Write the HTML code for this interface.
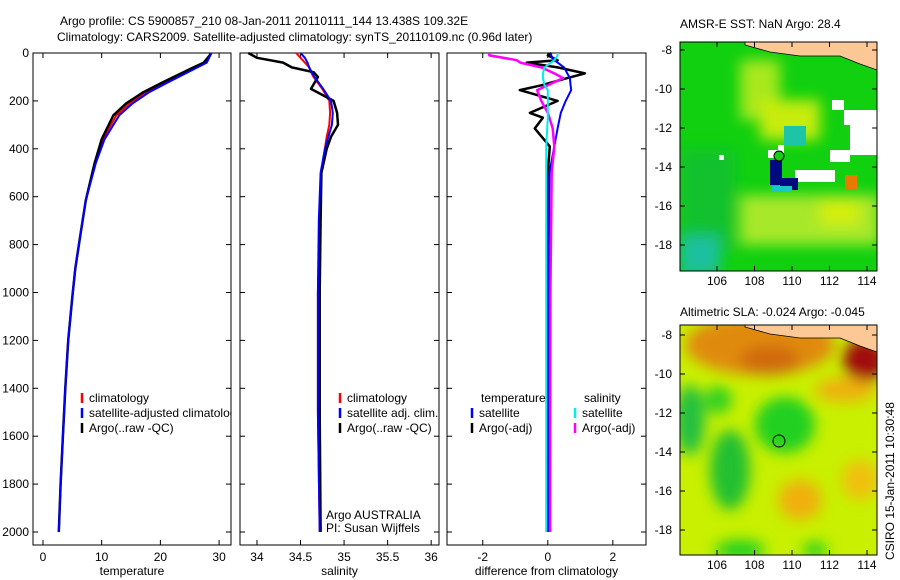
<!DOCTYPE html>
<html><head><meta charset="utf-8"><style>
body{margin:0;background:#fff;}
svg{display:block;font-family:"Liberation Sans",sans-serif;}
text{font-size:12px;fill:#000;}
</style></head><body>
<svg id="fig" width="900" height="580" viewBox="0 0 900 580">
<defs>
<clipPath id="c1"><rect x="680" y="42" width="197" height="229"/></clipPath>
<clipPath id="c2"><rect x="680" y="325" width="197" height="230"/></clipPath>
<filter id="bl" x="-50%" y="-50%" width="200%" height="200%"><feGaussianBlur stdDeviation="7"/></filter>
</defs>
<text x="60" y="25">Argo profile: CS 5900857_210 08-Jan-2011 20110111_144 13.438S 109.32E</text>
<text x="57" y="41">Climatology: CARS2009. Satellite-adjusted climatology: synTS_20110109.nc (0.96d later)</text>
<g id="panels"></g>
<!-- SST map -->
<g>
<text x="680" y="28">AMSR-E SST: NaN Argo: 28.4</text>
<g clip-path="url(#c1)">
<rect x="680" y="42" width="197" height="229" fill="#10d010"/>
<g filter="url(#bl)">
<rect x="680" y="150" width="55" height="100" fill="#12b840" opacity="0.6"/>
<rect x="680" y="235" width="40" height="40" fill="#1ec0a0"/>
<rect x="740" y="60" width="40" height="60" fill="#a8e81e"/>
<rect x="760" y="100" width="60" height="40" fill="#c8ec10"/>
<rect x="740" y="195" width="140" height="50" fill="#a8e82a"/>
<rect x="820" y="200" width="40" height="25" fill="#d4ee10"/>
</g>
<rect x="865" y="110" width="12" height="20" fill="#e8e010"/>
<rect x="784" y="126" width="22" height="20" fill="#1ec4a8"/>
<rect x="778" y="145" width="6" height="8" fill="#fff"/>
<rect x="832" y="100" width="12" height="10" fill="#fff"/>
<rect x="844" y="110" width="33" height="15" fill="#fff"/>
<rect x="850" y="125" width="27" height="30" fill="#fff"/>
<rect x="830" y="150" width="20" height="12" fill="#fff"/>
<rect x="795" y="170" width="40" height="12" fill="#fff"/>
<rect x="768" y="150" width="10" height="8" fill="#fff"/>
<rect x="770" y="160" width="12" height="25" fill="#000a80"/>
<rect x="780" y="178" width="18" height="12" fill="#000a80"/>
<rect x="772" y="186" width="20" height="6" fill="#18c8c8"/>
<rect x="845" y="175" width="12" height="14" fill="#e57c00"/>
<rect x="719" y="155" width="5" height="5" fill="#fff"/>
<path d="M745 42 L877 42 L877 70 L860 64 L840 56 L800 56 L770 52 L745 45 Z" fill="#fcc896" stroke="#000" stroke-width="0.8"/>
</g>
<circle cx="779" cy="156" r="5" fill="#19cc19" stroke="#000"/>
<rect x="680" y="42" width="197" height="229" fill="none" stroke="#000"/>
</g>
<!-- SLA map -->
<g>
<text x="680" y="316">Altimetric SLA: -0.024 Argo: -0.045</text>
<g clip-path="url(#c2)">
<rect x="680" y="325" width="197" height="230" fill="#c8f000"/>
<g filter="url(#bl)">
<ellipse cx="760" cy="345" rx="75" ry="30" fill="#e08a10"/>
<ellipse cx="770" cy="360" rx="30" ry="15" fill="#d06a08"/>
<ellipse cx="865" cy="360" rx="22" ry="22" fill="#a01010"/>
<ellipse cx="845" cy="390" rx="30" ry="12" fill="#eeb010"/>
<ellipse cx="690" cy="420" rx="15" ry="35" fill="#20c040"/>
<ellipse cx="718" cy="400" rx="14" ry="14" fill="#30d020"/>
<ellipse cx="785" cy="425" rx="30" ry="28" fill="#20d020"/>
<ellipse cx="730" cy="470" rx="20" ry="40" fill="#20c030"/>
<ellipse cx="800" cy="500" rx="22" ry="20" fill="#f0b010"/>
<ellipse cx="860" cy="480" rx="18" ry="20" fill="#f0c010"/>
<ellipse cx="740" cy="550" rx="25" ry="10" fill="#20d020"/>
<ellipse cx="815" cy="550" rx="12" ry="8" fill="#20d020"/>
</g>
<path d="M745 325 L877 325 L877 352 L860 346 L840 338 L800 338 L770 334 L745 327 Z" fill="#fcc896" stroke="#000" stroke-width="0.8"/>
</g>
<circle cx="779" cy="441" r="6" fill="none" stroke="#000"/>
<rect x="680" y="325" width="197" height="230" fill="none" stroke="#000"/>
</g>
<text transform="translate(894,560) rotate(-90)">CSIRO 15-Jan-2011 10:30:48</text>
<g id="maptext"></g>
</svg>
<script>
// ---- data ----
const depthTicks=[0,200,400,600,800,1000,1200,1400,1600,1800,2000];
const tempTicks=[0,10,20,30];
const salTicks=[34,34.5,35,35.5,36];
const salTickLabels=["34","34.5","35","35.5","36"];
const diffTicks=[-2,0,2];
const tDepth=[0,10,40,65,120,165,210,260,360,460,615,770,900,1020,1200,1400,1600,1800,2000];
const tClim=[28.6,28.4,27.6,25.5,21,17.5,14.8,12.5,10.2,8.9,7.3,6.3,5.5,5.0,4.3,3.8,3.4,3.0,2.7];
const tSat=[28.7,28.5,27.9,25.9,21.5,18,15.3,13,10.5,9.0,7.3,6.3,5.5,5.0,4.3,3.8,3.4,3.0,2.7];
const tArgo=[28.6,28.4,27.4,25.2,20.6,17,14.2,12,10.0,8.8,7.3,6.3,5.5,5.0,4.3,3.8,3.4,3.0,2.7];
const sDepth=[0,20,40,60,80,100,150,200,250,300,350,400,500,700,1000,1500,2000];
const sClim=[34.45,34.5,34.55,34.6,34.62,34.65,34.75,34.83,34.84,34.83,34.8,34.78,34.74,34.72,34.7,34.7,34.72];
const sSat=[34.5,34.55,34.58,34.6,34.63,34.66,34.76,34.85,34.87,34.86,34.82,34.78,34.73,34.71,34.7,34.7,34.72];
const sArgo=[33.9,34.0,34.3,34.4,34.65,34.7,34.62,34.88,34.92,34.93,34.85,34.8,34.74,34.73,34.72,34.72,34.73];
const dDepth=[0,10,30,40,60,85,105,135,155,200,250,270,315,390,500,1000,2000];
const dArgoT=[0.1,0,0.3,-0.65,0.3,1.14,0.6,-0.2,-0.86,0.3,-0.55,-0.15,-0.4,0.06,0,-0.02,0];
const dSatT=[0.1,0.1,0.2,0.3,0.5,0.6,0.68,0.7,0.72,0.55,0.4,0.37,0.3,0.2,0.05,0.02,0.02];
const dArgoS=[-1.8,-1.8,-0.95,-0.85,-0.2,0.2,0.47,0,-0.33,-0.2,0,0.05,0.15,0.2,0.12,0.08,0.07];
const dSatS=[0.3,0.3,0.2,0.1,-0.1,-0.15,-0.15,-0.1,0,0,0,0,-0.02,-0.05,-0.05,-0.05,-0.05];
const latTicks=[-8,-10,-12,-14,-16,-18];
const lonTicks=[106,108,110,112,114];

const NS="http://www.w3.org/2000/svg";
const fig=document.getElementById('panels');
function mk(tag,at,parent){const e=document.createElementNS(NS,tag);for(const k in at)e.setAttribute(k,at[k]);(parent||fig).appendChild(e);return e;}
const Y0=53,Y1=545;
const yD=d=>53+d*0.2395;
function panel(x0,x1,xmin,xmax,ticks,labels,xlabel,name,ylabels){
  const xs=v=>x0+(v-xmin)/(xmax-xmin)*(x1-x0);
  const g=mk('g',{});
  
  
  mk('rect',{x:x0,y:Y0,width:x1-x0,height:Y1-Y0,fill:'#fff',stroke:'#000'},g);
  depthTicks.forEach(d=>{const y=yD(d);
    mk('line',{x1:x0,x2:x0+5,y1:y,y2:y,stroke:'#000'},g);mk('line',{x1:x1,x2:x1-5,y1:y,y2:y,stroke:'#000'},g);
    if(ylabels){const t=mk('text',{x:x0-4,y:y+4,'text-anchor':'end'},g);t.textContent=d;
      
      }
  });
  ticks.forEach((v,i)=>{const x=xs(v);
    mk('line',{x1:x,x2:x,y1:Y1,y2:Y1-5,stroke:'#000'},g);mk('line',{x1:x,x2:x,y1:Y0,y2:Y0+5,stroke:'#000'},g);
    const t=mk('text',{x:x,y:Y1+16,'text-anchor':'middle'},g);t.textContent=labels[i];
    
    });
  const t=mk('text',{x:(x0+x1)/2,y:575,'text-anchor':'middle'},g);t.textContent=xlabel;
  
  
  return {g,xs};
}
function line(p,depths,vals,color,w,name,dash){
  const pts=depths.map((d,i)=>p.xs(vals[i]).toFixed(1)+','+yD(d).toFixed(1)).join(' ');
  const e=mk('polyline',{points:pts,fill:'none',stroke:color,'stroke-width':w,'stroke-linejoin':'round'},p.g);
  if(dash)e.setAttribute('stroke-dasharray',dash);
  
  
}
function legend(p,x,y,color,label,name){
  mk('line',{x1:x,x2:x,y1:y-9,y2:y+1,stroke:color,'stroke-width':2.5},p.g);
  const t=mk('text',{x:x+7,y:y},p.g);t.textContent=label;
  
  
}
const p1=panel(33,231,-1.70,32.03,tempTicks,tempTicks.map(String),'temperature','temperature-panel',true);
line(p1,tDepth,tClim,'#f00',2,'temp-climatology-line');
line(p1,tDepth,tArgo,'#000',2.5,'temp-argo-line');
line(p1,tDepth,tSat,'#00f',2,'temp-satellite-line');
legend(p1,82,402,'#f00','climatology','legend-climatology');
legend(p1,82,417,'#00f','satellite-adjusted climatology','legend-satellite');
legend(p1,82,432,'#000','Argo(..raw -QC)','legend-argo');
mk('rect',{x:231.5,y:405,width:8,height:15,fill:'#fff'});

const p2=panel(240,439,33.805,36.09,salTicks,salTickLabels,'salinity','salinity-panel',false);
line(p2,sDepth,sClim,'#f00',2,'sal-climatology-line');
line(p2,sDepth,sArgo,'#000',2.5,'sal-argo-line');
line(p2,sDepth,sSat,'#00f',2,'sal-satellite-line');
legend(p2,340,402,'#f00','climatology','legend-sal-climatology');
legend(p2,340,417,'#00f','satellite adj. clim.','legend-sal-satellite');
legend(p2,340,432,'#000','Argo(..raw -QC)','legend-sal-argo');
[['Argo AUSTRALIA',519],['PI: Susan Wijffels',532]].forEach(a=>{const t=mk('text',{x:326,y:a[1]},p2.g);t.textContent=a[0];
  
  });

const p3=panel(447,646,-3.1,3.02,diffTicks,diffTicks.map(String),'difference from climatology','difference-panel',false);
line(p3,dDepth,dArgoT,'#000',2.5,'diff-argo-temp-line');
line(p3,dDepth,dSatT,'#00f',2,'diff-sat-temp-line');
line(p3,dDepth,dArgoS,'#f0f',2.5,'diff-argo-sal-line');
line(p3,dDepth,dSatS,'#0ee',2,'diff-sat-sal-line');
[['temperature',481,402],['salinity',584,402]].forEach(a=>{const t=mk('text',{x:a[1],y:a[2]},p3.g);t.textContent=a[0];
  
  });
legend(p3,472,417,'#00f','satellite','legend-diff-sat-temp');
legend(p3,472,432,'#000','Argo(-adj)','legend-diff-argo-temp');
legend(p3,575,417,'#0ee','satellite','legend-diff-sat-sal');
legend(p3,575,432,'#f0f','Argo(-adj)','legend-diff-argo-sal');

// map ticks
const mt=document.getElementById('maptext');
function mapAxes(top,bottom,latY0,latStep){
  latTicks.forEach(l=>{const y=latY0+(-8-l)*latStep;
    mk('line',{x1:872,x2:877,y1:y,y2:y,stroke:'#000'},mt);
    mk('line',{x1:680,x2:685,y1:y,y2:y,stroke:'#000'},mt);
    const t=mk('text',{x:672,y:y+4,'text-anchor':'end'},mt);t.textContent=l;
    
    });
  lonTicks.forEach(l=>{const x=717+(l-106)*18.75;
    mk('line',{x1:x,x2:x,y1:bottom,y2:bottom-5,stroke:'#000'},mt);
    mk('line',{x1:x,x2:x,y1:top,y2:top+5,stroke:'#000'},mt);
    const t=mk('text',{x:x,y:bottom+14,'text-anchor':'middle'},mt);t.textContent=l;
    
    });
}
mapAxes(42,271,50,19.5);
mapAxes(325,555,335,19.5);
</script>
</body></html>
